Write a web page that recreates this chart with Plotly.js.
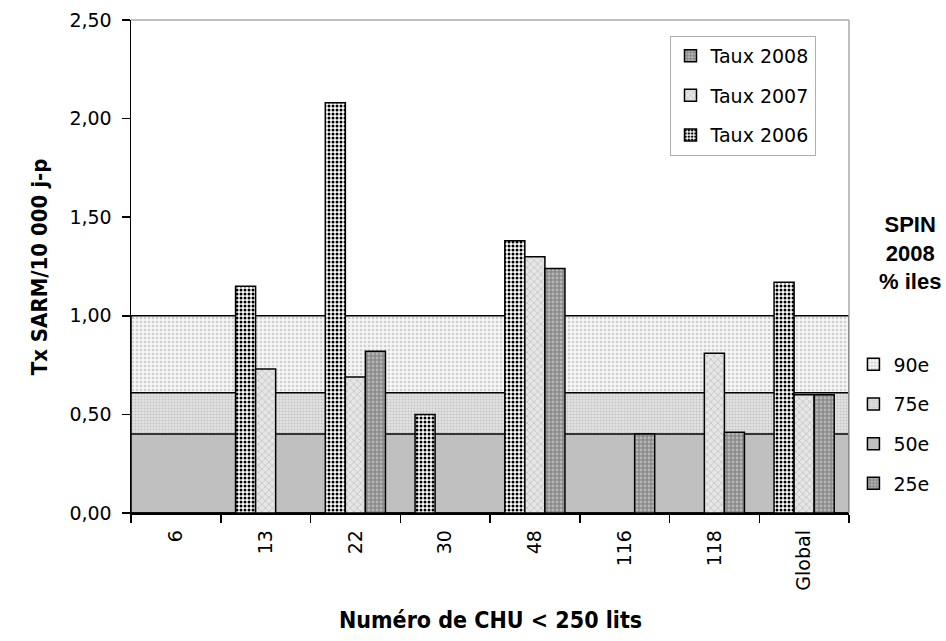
<!DOCTYPE html>
<html>
<head>
<meta charset="utf-8">
<script src="https://cdn.plot.ly/plotly-3.0.1.min.js"></script>
<style>
  html, body { margin: 0; padding: 0; background: #ffffff; }
  #chart { width: 946px; height: 641px; }
</style>
</head>
<body>
<div id="chart"></div>
<script>
// MRSA rate per 10 000 patient-days, hospitals under 250 beds
const categories = ['6', '13', '22', '30', '48', '116', '118', 'Global'];
const taux2006 = [null, 1.15, 2.08, 0.50, 1.38, null, null, 1.17];
const taux2007 = [null, 0.73, 0.69, null, 1.30, null, 0.81, 0.60];
const taux2008 = [null, null, 0.82, null, 1.24, 0.40, 0.41, 0.60];

// SPIN 2008 percentiles, drawn as horizontal reference bands
const spinLabels = ['90e', '75e', '50e', '25e'];
const spinValues = [1.00, 0.61, 0.40, 0.00];

const baseFont = 'DejaVu Sans, Liberation Sans, Arial, sans-serif';
const narrowBold = 'DejaVu Sans Condensed, Liberation Sans Narrow, Arial Narrow, sans-serif';
const boldFont = 'Liberation Sans, Arial, sans-serif';

const bandStyles = [
  { bg: '#f6f6f6', fg: '#cfcfcf', shape: '.', size: 4, solidity: 0.35 },
  { bg: '#e4e4e4', fg: '#c4c4c4', shape: '.', size: 3, solidity: 0.4 },
  { bg: '#c0c0c0', fg: '#c0c0c0', shape: '', size: 4, solidity: 0.3 },
  { bg: '#8c8c8c', fg: '#b4b4b4', shape: '.', size: 4, solidity: 0.4 }
];

const traces = [];

// Percentile bands span the full width of the category axis
spinLabels.forEach((lab, i) => {
  const s = bandStyles[i];
  traces.push({
    type: 'bar',
    name: lab,
    x: [categories[0]],
    y: [spinValues[i]],
    width: [categories.length],
    offset: -0.5,
    xaxis: 'x',
    yaxis: 'y',
    legend: 'legend2',
    legendgroup: 'spin' + lab,
    legendrank: i + 1,
    marker: {
      color: s.bg,
      line: { color: '#000000', width: 1.5 },
      pattern: { shape: s.shape, bgcolor: s.bg, fgcolor: s.fg, size: s.size, solidity: s.solidity, fillmode: 'replace' }
    },
    hoverinfo: 'skip'
  });
});

const seriesDefs = [
  { name: 'Taux 2006', y: taux2006, rank: 3, bg: '#ffffff', fg: '#000000', shape: '.', size: 4, solidity: 0.45 },
  { name: 'Taux 2007', y: taux2007, rank: 2, bg: '#e6e6e6', fg: '#bdbdbd', shape: 'x', size: 5, solidity: 0.25 },
  { name: 'Taux 2008', y: taux2008, rank: 1, bg: '#8a8a8a', fg: '#b8b8b8', shape: '.', size: 4, solidity: 0.4 }
];

seriesDefs.forEach(d => {
  traces.push({
    type: 'bar',
    name: d.name,
    x: categories,
    y: d.y,
    xaxis: 'x2',
    yaxis: 'y',
    legend: 'legend',
    legendgroup: d.name,
    legendrank: d.rank,
    marker: {
      color: d.bg,
      line: { color: '#000000', width: 1.5 },
      pattern: { shape: d.shape, bgcolor: d.bg, fgcolor: d.fg, size: d.size, solidity: d.solidity, fillmode: 'replace' }
    }
  });
});

const layout = {
  width: 946,
  height: 641,
  margin: { l: 131, r: 94, t: 20, b: 128 },
  paper_bgcolor: '#ffffff',
  plot_bgcolor: 'rgba(0,0,0,0)',
  separators: ', ',
  barmode: 'group',
  bargap: 0.33,
  bargroupgap: 0,
  font: { family: baseFont, size: 19, color: '#000000' },
  showlegend: true,
  xaxis: {
    type: 'category',
    range: [-0.5, categories.length - 0.5],
    visible: false,
    fixedrange: true
  },
  xaxis2: {
    type: 'category',
    overlaying: 'x',
    anchor: 'y',
    side: 'bottom',
    range: [-0.5, categories.length - 0.5],
    showline: true,
    linecolor: '#000000',
    linewidth: 1.5,
    ticks: 'outside',
    tickson: 'boundaries',
    ticklen: 8,
    tickcolor: '#000000',
    tickwidth: 1.5,
    tickangle: -90,
    ticklabelstandoff: 8,
    tickfont: { family: baseFont, size: 19, color: '#000000' },
    showgrid: false,
    zeroline: false,
    fixedrange: true
  },
  yaxis: {
    range: [0, 2.5],
    dtick: 0.5,
    tickformat: '.2f',
    showline: true,
    linecolor: '#000000',
    linewidth: 1.5,
    ticks: 'outside',
    ticklen: 8,
    tickcolor: '#000000',
    tickwidth: 1.5,
    ticklabelstandoff: 6,
    tickfont: { family: baseFont, size: 19, color: '#000000' },
    showgrid: false,
    zeroline: false,
    fixedrange: true
  },
  legend: {
    x: 0.750, y: 0.968, xanchor: 'left', yanchor: 'top',
    bgcolor: '#ffffff',
    bordercolor: '#b0b0b0',
    borderwidth: 1,
    traceorder: 'grouped',
    tracegroupgap: 12,
    font: { family: baseFont, size: 19, color: '#000000' },
    itemclick: false, itemdoubleclick: false
  },
  legend2: {
    x: 1.119, y: 0.34, xanchor: 'right', yanchor: 'top',
    bgcolor: 'rgba(0,0,0,0)',
    borderwidth: 0,
    traceorder: 'grouped',
    tracegroupgap: 12,
    font: { family: baseFont, size: 19, color: '#000000' },
    itemclick: false, itemdoubleclick: false
  },
  shapes: [
    { type: 'line', xref: 'paper', yref: 'paper', x0: 0, x1: 1, y0: 1, y1: 1,
      line: { color: '#a8a8a8', width: 1.5 }, layer: 'above' },
    { type: 'line', xref: 'paper', yref: 'paper', x0: 1, x1: 1, y0: 0, y1: 1,
      line: { color: '#a8a8a8', width: 1.5 }, layer: 'above' }
  ],
  annotations: [
    { text: '<b>Tx SARM/10 000 j-p</b>', textangle: -90, xref: 'paper', yref: 'paper',
      x: -0.127, y: 0.5, xanchor: 'center', yanchor: 'middle', showarrow: false,
      font: { family: narrowBold, size: 22, color: '#000000' } },
    { text: '<b>Numéro de CHU < 250 lits</b>', xref: 'paper', yref: 'paper',
      x: 0.5, y: -0.218, xanchor: 'center', yanchor: 'middle', showarrow: false,
      font: { family: narrowBold, size: 23, color: '#000000' } },
    { text: '<b>SPIN<br>2008<br>% iles</b>', xref: 'paper', yref: 'paper',
      x: 1.085, y: 0.527, xanchor: 'center', yanchor: 'middle', align: 'center', showarrow: false,
      font: { family: boldFont, size: 22, color: '#000000' } }
  ]
};

Plotly.newPlot('chart', traces, layout, { displayModeBar: false, staticPlot: true });
</script>
</body>
</html>
